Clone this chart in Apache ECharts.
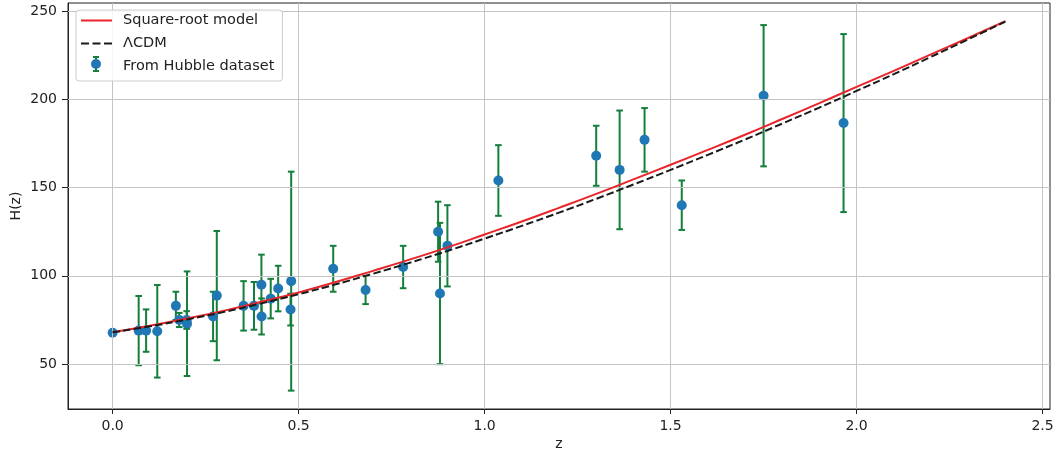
<!DOCTYPE html>
<html>
<head>
<meta charset="utf-8">
<script src="https://cdn.jsdelivr.net/npm/echarts@6/dist/echarts.min.js"></script>
<style>html,body{margin:0;padding:0;background:#fff;}#c{width:1057px;height:457px;}</style>
</head>
<body>
<div id="c"></div>
<script>
// Observational H(z): redshift, value, error
const obsZ   = [0.0, 0.07, 0.09, 0.12, 0.17, 0.179, 0.199, 0.2, 0.27, 0.28, 0.352, 0.38, 0.4, 0.4004, 0.425, 0.445, 0.4783, 0.48, 0.593, 0.68, 0.781, 0.875, 0.88, 0.9, 1.037, 1.3, 1.363, 1.43, 1.53, 1.75, 1.965];
const obsH   = [67.8, 69, 69, 68.6, 83, 75, 75, 72.9, 77, 88.8, 83, 83, 95, 77, 87.1, 92.8, 80.9, 97, 104, 92, 105, 125, 90, 117, 154, 168, 160, 177, 140, 202, 186.5];
const obsErr = [0.5, 19.6, 12, 26.2, 8, 4, 5, 29.6, 14, 36.6, 14, 13.5, 17, 10.2, 11.2, 12.9, 9, 62, 13, 8, 12, 17, 40, 23, 20, 17, 33.6, 18, 14, 40, 50.4];

// Model curves
const curveZ    = [0.0, 0.1, 0.2, 0.3, 0.4, 0.5, 0.6, 0.7, 0.8, 0.9, 1.0, 1.1, 1.2, 1.3, 1.4, 1.5, 1.6, 1.7, 1.8, 1.9, 2.0, 2.1, 2.2, 2.3, 2.4];
const sqrtModel = [68.0, 71.7, 75.8, 80.3, 85.3, 90.6, 96.5, 102.8, 109.3, 116.1, 123.4, 130.8, 138.5, 146.4, 154.6, 162.9, 171.3, 179.9, 188.8, 197.8, 207.0, 216.1, 225.4, 234.7, 244.2];
const lcdm      = [68.0, 71.4, 75.3, 79.6, 84.4, 89.6, 95.2, 101.2, 107.5, 114.1, 121.1, 128.3, 135.8, 143.6, 151.7, 160.0, 168.5, 177.2, 186.2, 195.3, 204.7, 214.2, 224.0, 233.9, 244.0];

// Tick values
const xTicks = [0.0, 0.5, 1.0, 1.5, 2.0, 2.5];
const yTicks = [50, 100, 150, 200, 250];

const FONT = 'DejaVu Sans';
const RED = '#e8252a', BLACK = '#1a1a1a', BLUE = '#1f77b4', GREEN = '#137f3b';
const chart = echarts.init(document.getElementById('c'), null, {renderer: 'canvas'});

const pts = obsZ.map((z, i) => [z, obsH[i]]);
const errs = obsZ.map((z, i) => [z, obsH[i], obsErr[i]]);

const gridLines = [];
xTicks.forEach(v => gridLines.push({xAxis: v}));
yTicks.forEach(v => gridLines.push({yAxis: v}));

chart.setOption({
  animation: false,
  backgroundColor: '#fff',
  textStyle: {fontFamily: FONT},
  grid: {left: 68, right: 7, top: 3, bottom: 48, containLabel: false, outerBoundsMode: 'none',
    show: true, borderColor: '#222', borderWidth: 1, backgroundColor: 'transparent'},
  xAxis: {
    type: 'value', min: -0.12, max: 2.52,
    name: 'z', nameLocation: 'middle', nameGap: 28, nameMoveOverlap: false,
    nameTextStyle: {fontFamily: FONT, fontSize: 14, color: '#222'},
    axisLine: {show: true, onZero: false, lineStyle: {color: '#222', width: 1}},
    axisTick: {show: true, length: 5, customValues: xTicks, lineStyle: {color: '#222'}},
    axisLabel: {show: true, margin: 10, customValues: xTicks, fontFamily: FONT, fontSize: 14, color: '#222',
      formatter: v => v.toFixed(1)},
    splitLine: {show: false}
  },
  yAxis: {
    type: 'value', min: 24.6, max: 254.5,
    name: 'H(z)', nameLocation: 'middle', nameGap: 45, nameMoveOverlap: false,
    nameTextStyle: {fontFamily: FONT, fontSize: 14, color: '#222'},
    axisLine: {show: true, onZero: false, lineStyle: {color: '#222', width: 1}},
    axisTick: {show: true, length: 6, customValues: yTicks, lineStyle: {color: '#222'}},
    axisLabel: {show: true, margin: 11, customValues: yTicks, fontFamily: FONT, fontSize: 14, color: '#222'},
    splitLine: {show: false}
  },
  legend: {
    orient: 'vertical', left: 76, top: 10, z: 10,
    itemWidth: 31, itemHeight: 14, itemGap: 8,
    padding: [3, 8, 7, 5],
    borderColor: '#cccccc', borderWidth: 1, borderRadius: 3,
    backgroundColor: 'rgba(255,255,255,0.85)',
    textStyle: {fontFamily: FONT, fontSize: 14.5, color: '#222', lineHeight: 14, padding: [0, 0, 0, 6]},
    data: [
      {name: 'Square-root model', icon: 'path://M0,0h31v2h-31z'},
      {name: 'ΛCDM', icon: 'path://M0,0h8v2h-8zM11.5,0h8v2h-8zM23,0h8v2h-8z'},
      {name: 'From Hubble dataset', icon: 'circle', itemStyle: {opacity: 0}}
    ]
  },
  graphic: {
    zlevel: 1,
    elements: [
      {type: 'line', z: 100, shape: {x1: 96, y1: 57, x2: 96, y2: 71}, style: {stroke: GREEN, lineWidth: 2}},
      {type: 'line', z: 100, shape: {x1: 93, y1: 57, x2: 99, y2: 57}, style: {stroke: GREEN, lineWidth: 2}},
      {type: 'line', z: 100, shape: {x1: 93, y1: 71, x2: 99, y2: 71}, style: {stroke: GREEN, lineWidth: 2}},
      {type: 'circle', z: 101, shape: {cx: 96, cy: 64, r: 5}, style: {fill: BLUE}}
    ]
  },
  series: [
    {
      name: 'grid', type: 'line', data: [], z: 0, silent: true,
      markLine: {silent: true, symbol: 'none', animation: false, label: {show: false},
        lineStyle: {color: '#c4c4c4', type: 'solid', width: 1}, data: gridLines}
    },
    {
      name: 'errorbars', type: 'custom', z: 3, silent: true,
      data: errs,
      renderItem: function (params, api) {
        const z = api.value(0), h = api.value(1), e = api.value(2);
        const top = api.coord([z, h + e]);
        const bot = api.coord([z, h - e]);
        const cw = 3.3;
        const st = {stroke: GREEN, lineWidth: 2};
        return {type: 'group', children: [
          {type: 'line', shape: {x1: top[0], y1: top[1], x2: bot[0], y2: bot[1]}, style: st},
          {type: 'line', shape: {x1: top[0] - cw, y1: top[1], x2: top[0] + cw, y2: top[1]}, style: st},
          {type: 'line', shape: {x1: bot[0] - cw, y1: bot[1], x2: bot[0] + cw, y2: bot[1]}, style: st}
        ]};
      }
    },
    {
      name: 'From Hubble dataset', type: 'scatter', z: 4,
      data: pts, symbol: 'circle', symbolSize: 10,
      itemStyle: {color: BLUE, opacity: 1}
    },
    {
      name: 'Square-root model', type: 'line', z: 5,
      data: curveZ.map((z, i) => [z, sqrtModel[i]]),
      smooth: true, symbol: 'none', showSymbol: false,
      lineStyle: {color: RED, width: 2},
      itemStyle: {color: RED}
    },
    {
      name: 'ΛCDM', type: 'line', z: 6,
      data: curveZ.map((z, i) => [z, lcdm[i]]),
      smooth: true, symbol: 'none', showSymbol: false,
      lineStyle: {color: BLACK, width: 2, type: [7.5, 3.2]},
      itemStyle: {color: BLACK}
    }
  ]
});
</script>
</body>
</html>
